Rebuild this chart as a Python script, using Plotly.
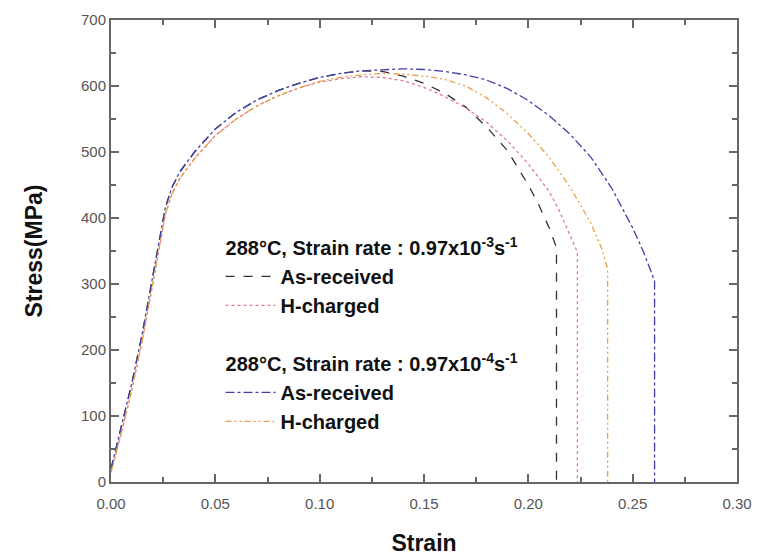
import plotly.graph_objects as go

# ---- data ----
strain_ar3 = [0.0, 0.005, 0.010, 0.015, 0.020, 0.0235, 0.026, 0.029, 0.033, 0.04, 0.05, 0.06, 0.07, 0.08,
              0.09, 0.10, 0.11, 0.12, 0.13, 0.14, 0.15, 0.16, 0.17, 0.18, 0.19, 0.20, 0.205, 0.21, 0.2135, 0.2135]
stress_ar3 = [20, 85, 150, 225, 310, 370, 415, 445, 470, 500, 535, 560, 579, 593,
              604, 613, 619, 623, 622, 615, 604, 589, 568, 538, 502, 450, 420, 385, 355, 0]

strain_hc3 = [0.0, 0.005, 0.010, 0.015, 0.020, 0.0235, 0.026, 0.029, 0.033, 0.04, 0.05, 0.06, 0.07, 0.08,
              0.09, 0.10, 0.11, 0.12, 0.13, 0.14, 0.15, 0.16, 0.17, 0.18, 0.19, 0.20, 0.21, 0.215, 0.22, 0.2235, 0.2235]
stress_hc3 = [15, 75, 140, 215, 300, 360, 405, 435, 460, 490, 525, 550, 570, 585,
              597, 606, 611, 614, 613, 608, 598, 584, 567, 545, 517, 482, 440, 410, 375, 348, 0]

strain_ar4 = [0.0, 0.005, 0.010, 0.015, 0.020, 0.0235, 0.026, 0.029, 0.033, 0.04, 0.05, 0.06, 0.07, 0.08,
              0.09, 0.10, 0.11, 0.12, 0.13, 0.14, 0.15, 0.16, 0.17, 0.18, 0.19, 0.20, 0.21, 0.22, 0.23,
              0.24, 0.25, 0.255, 0.2605, 0.2605]
stress_ar4 = [20, 85, 150, 225, 310, 370, 415, 445, 470, 500, 535, 560, 579, 593,
              604, 613, 619, 623, 625, 626, 625, 622, 617, 609, 596, 578, 555, 527, 492,
              445, 385, 350, 305, 0]

strain_hc4 = [0.0, 0.005, 0.010, 0.015, 0.020, 0.0235, 0.026, 0.029, 0.033, 0.04, 0.05, 0.06, 0.07, 0.08,
              0.09, 0.10, 0.11, 0.12, 0.13, 0.14, 0.15, 0.16, 0.17, 0.18, 0.19, 0.20, 0.21, 0.22, 0.23,
              0.235, 0.238, 0.238]
stress_hc4 = [15, 75, 140, 215, 300, 360, 405, 435, 460, 490, 525, 550, 570, 585,
              597, 607, 613, 617, 619, 618, 615, 610, 600, 582, 558, 528, 492, 447, 392,
              355, 323, 0]

title3 = "<b>288°C, Strain rate : 0.97x10<sup>-3</sup>s<sup>-1</sup></b>"
title4 = "<b>288°C, Strain rate : 0.97x10<sup>-4</sup>s<sup>-1</sup></b>"

fig = go.Figure()
fig.add_trace(go.Scatter(x=strain_ar3, y=stress_ar3, mode="lines", name="<b>As-received</b>",
                         line=dict(color="#333333", width=1.3, dash="dash"),
                         legendgroup="g3", legendgrouptitle=dict(text=title3)))
fig.add_trace(go.Scatter(x=strain_hc3, y=stress_hc3, mode="lines", name="<b>H-charged</b>",
                         line=dict(color="#e07a8a", width=1.3, dash="dot"),
                         legendgroup="g3"))
fig.add_trace(go.Scatter(x=strain_ar4, y=stress_ar4, mode="lines", name="<b>As-received</b>",
                         line=dict(color="#4040a8", width=1.3, dash="dashdot"),
                         legendgroup="g4", legendgrouptitle=dict(text=title4)))
fig.add_trace(go.Scatter(x=strain_hc4, y=stress_hc4, mode="lines", name="<b>H-charged</b>",
                         line=dict(color="#e8a048", width=1.3, dash="6px,3px,2px,3px,2px,3px"),
                         legendgroup="g4"))

axis_common = dict(showgrid=False, zeroline=False, showline=True, linecolor="#666666", linewidth=2,
                   mirror="ticks", ticks="inside", tickcolor="#666666", tickwidth=1.5, ticklen=8,
                   automargin=False,
                   tickfont=dict(family="Liberation Sans, Arial", size=15, color="#555555"))

fig.update_xaxes(range=[0, 0.30], dtick=0.05, tick0=0, tickformat=".2f", ticklabelstandoff=7,
                 minor=dict(dtick=0.025, ticks="inside", ticklen=5, tickcolor="#666666", tickwidth=1.5),
                 title=dict(text="<b>Strain</b>", font=dict(family="Liberation Sans, Arial", size=23, color="#111111"),
                            standoff=24),
                 **axis_common)
fig.update_yaxes(range=[0, 700], dtick=100, tick0=0,
                 minor=dict(dtick=50, ticks="inside", ticklen=5, tickcolor="#666666", tickwidth=1.5),
                 title=dict(text="<b>Stress(MPa)</b>", font=dict(family="Liberation Sans, Arial", size=23, color="#111111"),
                            standoff=32),
                 **axis_common)

fig.update_layout(
    width=763, height=558,
    margin=dict(l=111, r=26, t=20, b=76),
    plot_bgcolor="white", paper_bgcolor="white",
    showlegend=True,
    legend=dict(x=0.175, y=0.55, xanchor="left", yanchor="top",
                bgcolor="rgba(0,0,0,0)", borderwidth=0,
                font=dict(family="Liberation Sans, Arial", size=20, color="#111111"),
                grouptitlefont=dict(family="Liberation Sans, Arial", size=20, color="#111111"),
                tracegroupgap=29, itemwidth=50),
)

fig.write_html("out.html")
